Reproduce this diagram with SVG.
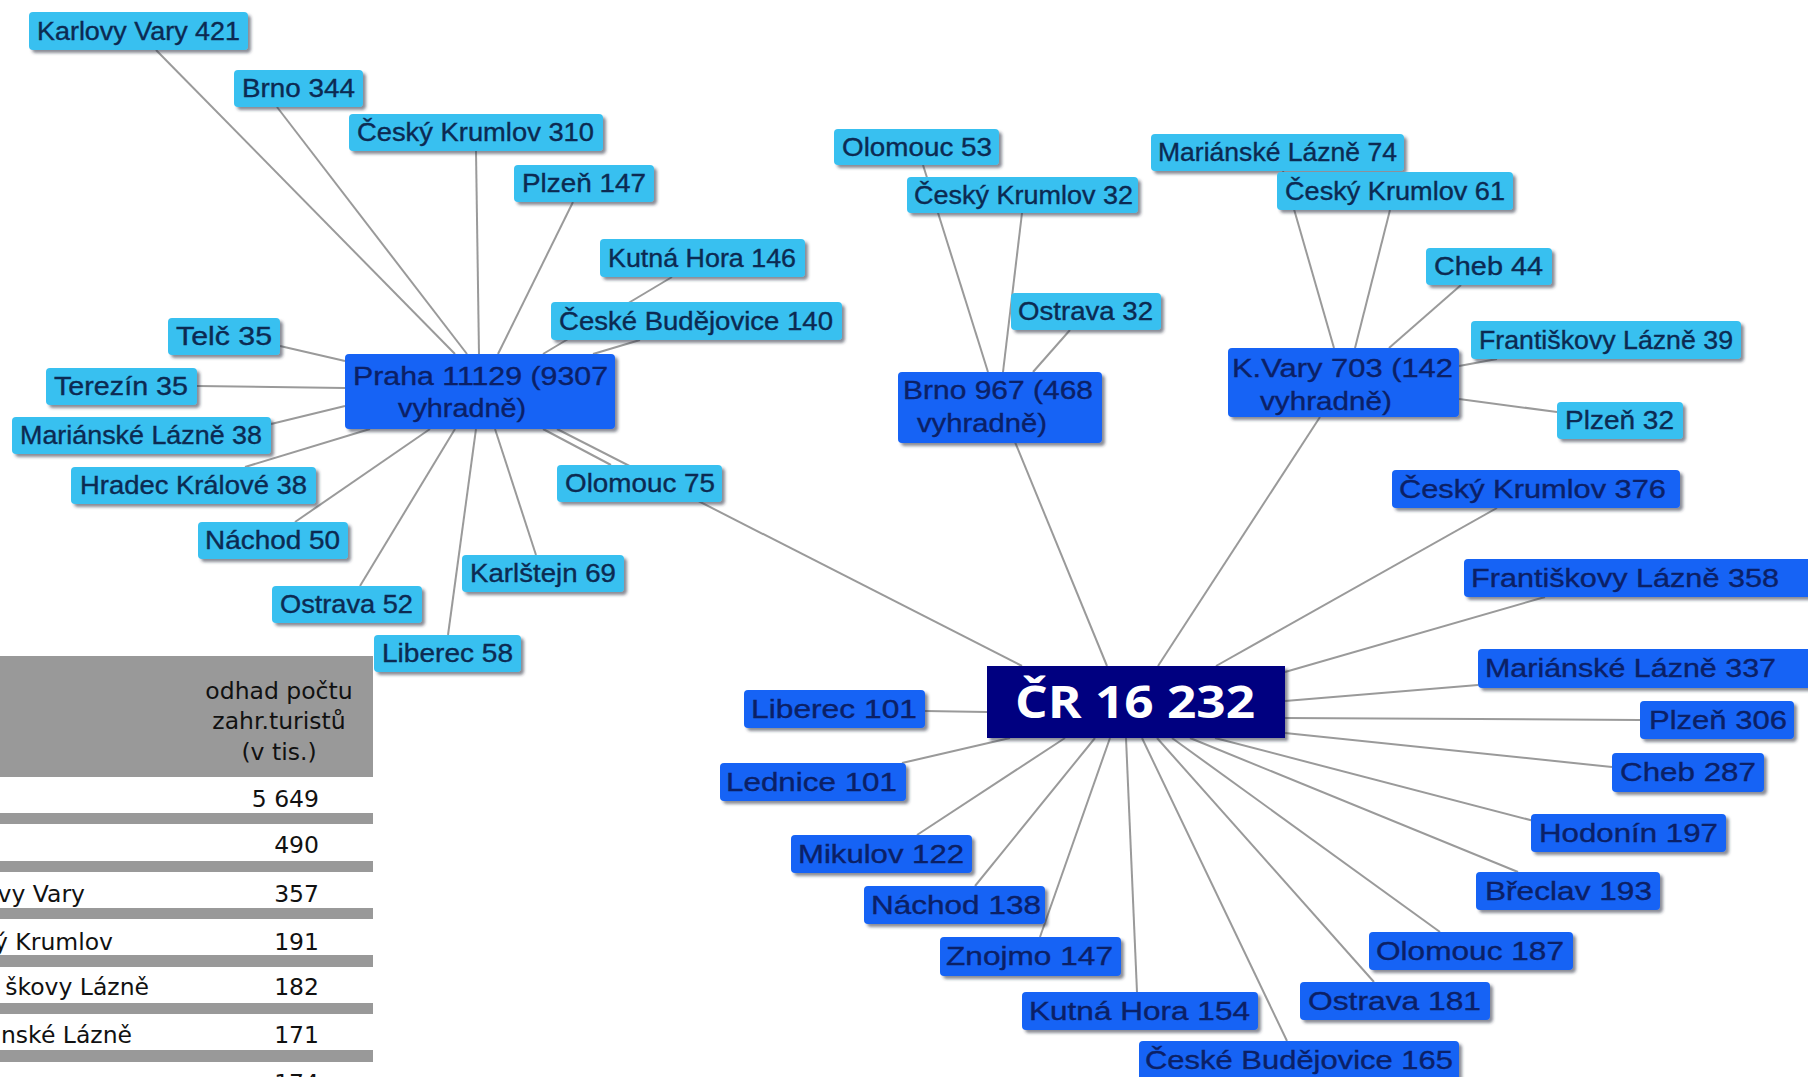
<svg xmlns="http://www.w3.org/2000/svg" width="1808" height="1077" viewBox="0 0 1808 1077" xml:space="preserve">
<defs>
<filter id="sh" x="-10%" y="-20%" width="130%" height="160%">
<feDropShadow dx="3" dy="3" stdDeviation="1.5" flood-color="#2a3340" flood-opacity="0.55"/>
</filter>
<style>
.lb{fill:#38c0f0;filter:url(#sh)}
.bl{fill:#1464f5;filter:url(#sh)}
.cr{fill:#000080;filter:url(#sh)}
.t{font-family:"Liberation Sans",Arial,sans-serif;font-size:25px;text-anchor:middle;fill:#0c2a52;stroke:#0c2a52;stroke-width:0.35}
.tb{font-family:"Liberation Sans",Arial,sans-serif;font-size:26px;text-anchor:middle;fill:#0b2066;stroke:#0b2066;stroke-width:0.35}
.tc{font-family:"Open Sans","Noto Sans",sans-serif;font-size:44px;font-weight:700;text-anchor:middle;fill:#ffffff}
.c line{stroke:#9a9a9a;stroke-width:2}
.tab{font-family:"DejaVu Sans",Verdana,sans-serif;font-size:23.5px;fill:#111111}
.bar{fill:#999999}
</style>
</defs>
<rect width="1808" height="1077" fill="#ffffff"/>

<g id="table">
<rect class="bar" x="0" y="656" width="373" height="121"/>
<text class="tab" x="279" y="699" text-anchor="middle">odhad počtu</text>
<text class="tab" x="279" y="729" text-anchor="middle">zahr.turistů</text>
<text class="tab" x="279" y="760" text-anchor="middle">(v tis.)</text>
<rect class="bar" x="0" y="813" width="373" height="11"/>
<rect class="bar" x="0" y="861" width="373" height="11"/>
<rect class="bar" x="0" y="908" width="373" height="11"/>
<rect class="bar" x="0" y="955" width="373" height="12"/>
<rect class="bar" x="0" y="1003" width="373" height="11"/>
<rect class="bar" x="0" y="1050" width="373" height="12"/>
<text class="tab" x="319" y="807" text-anchor="end">5 649</text>
<text class="tab" x="319" y="853" text-anchor="end">490</text>
<text class="tab" x="319" y="902" text-anchor="end">357</text>
<text class="tab" x="319" y="950" text-anchor="end">191</text>
<text class="tab" x="319" y="995" text-anchor="end">182</text>
<text class="tab" x="319" y="1043" text-anchor="end">171</text>
<text class="tab" x="319" y="1091" text-anchor="end">174</text>
<text class="tab" x="85" y="902" text-anchor="end">vy Vary</text>
<text class="tab" x="113" y="950" text-anchor="end">ý Krumlov</text>
<text class="tab" x="149" y="995" text-anchor="end">škovy Lázně</text>
<text class="tab" x="132" y="1043" text-anchor="end">nské Lázně</text>
</g>

<g id="connectors" class="c">
<line x1="156" y1="50" x2="455" y2="354"/>
<line x1="277" y1="107" x2="467" y2="354"/>
<line x1="476" y1="151" x2="479" y2="354"/>
<line x1="573" y1="202" x2="498" y2="354"/>
<line x1="672" y1="277" x2="543" y2="354"/>
<line x1="640" y1="340" x2="593" y2="354"/>
<line x1="280" y1="346" x2="345" y2="361"/>
<line x1="197" y1="386" x2="345" y2="388"/>
<line x1="271" y1="424" x2="345" y2="406"/>
<line x1="245" y1="467" x2="370" y2="429"/>
<line x1="295" y1="522" x2="430" y2="429"/>
<line x1="360" y1="586" x2="455" y2="429"/>
<line x1="448" y1="635" x2="476" y2="429"/>
<line x1="536" y1="555" x2="495" y2="429"/>
<line x1="611" y1="465" x2="543" y2="429"/>
<line x1="557" y1="429" x2="1022" y2="666"/>
<line x1="923" y1="165" x2="988" y2="372"/>
<line x1="1022" y1="213" x2="1003" y2="372"/>
<line x1="1070" y1="330" x2="1033" y2="372"/>
<line x1="1015" y1="442" x2="1107" y2="666"/>
<line x1="1283" y1="171" x2="1334" y2="348"/>
<line x1="1390" y1="210" x2="1355" y2="348"/>
<line x1="1461" y1="285" x2="1389" y2="348"/>
<line x1="1497" y1="359" x2="1459" y2="366"/>
<line x1="1557" y1="412" x2="1459" y2="399"/>
<line x1="1320" y1="417" x2="1158" y2="666"/>
<line x1="925" y1="711" x2="987" y2="712"/>
<line x1="902" y1="763" x2="1010" y2="738"/>
<line x1="917" y1="835" x2="1065" y2="738"/>
<line x1="975" y1="886" x2="1095" y2="738"/>
<line x1="1040" y1="937" x2="1110" y2="738"/>
<line x1="1137" y1="992" x2="1126" y2="738"/>
<line x1="1287" y1="1041" x2="1142" y2="738"/>
<line x1="1374" y1="982" x2="1157" y2="738"/>
<line x1="1440" y1="932" x2="1172" y2="738"/>
<line x1="1518" y1="872" x2="1190" y2="738"/>
<line x1="1534" y1="821" x2="1215" y2="738"/>
<line x1="1612" y1="767" x2="1285" y2="733"/>
<line x1="1640" y1="720" x2="1285" y2="718"/>
<line x1="1478" y1="685" x2="1285" y2="701"/>
<line x1="1545" y1="597" x2="1285" y2="672"/>
<line x1="1497" y1="508" x2="1216" y2="666"/>
</g>

<g id="n-kv421"><rect class="lb" x="29" y="12" width="219" height="38" rx="4"/><text class="t" x="138.5" y="40" textLength="203" lengthAdjust="spacingAndGlyphs">Karlovy Vary  421</text></g>
<g id="n-brno344"><rect class="lb" x="234" y="70" width="129" height="37" rx="4"/><text class="t" x="298.5" y="97" textLength="113" lengthAdjust="spacingAndGlyphs">Brno  344</text></g>
<g id="n-ck310"><rect class="lb" x="349" y="114" width="254" height="37" rx="4"/><text class="t" x="475.5" y="141" textLength="237" lengthAdjust="spacingAndGlyphs">Český Krumlov  310</text></g>
<g id="n-plzen147"><rect class="lb" x="514" y="165" width="140" height="37" rx="4"/><text class="t" x="584" y="192" textLength="124" lengthAdjust="spacingAndGlyphs">Plzeň  147</text></g>
<g id="n-kh146"><rect class="lb" x="600" y="239" width="205" height="38" rx="4"/><text class="t" x="702" y="267" textLength="188" lengthAdjust="spacingAndGlyphs">Kutná Hora  146</text></g>
<g id="n-cb140"><rect class="lb" x="551" y="302" width="291" height="38" rx="4"/><text class="t" x="696" y="330" textLength="274" lengthAdjust="spacingAndGlyphs">České Budějovice  140</text></g>
<g id="n-telc35"><rect class="lb" x="168" y="318" width="112" height="37" rx="4"/><text class="t" x="224" y="345" textLength="96" lengthAdjust="spacingAndGlyphs">Telč  35</text></g>
<g id="n-terezin35"><rect class="lb" x="46" y="368" width="151" height="37" rx="4"/><text class="t" x="121" y="395" textLength="134" lengthAdjust="spacingAndGlyphs">Terezín  35</text></g>
<g id="n-ml38"><rect class="lb" x="12" y="417" width="259" height="37" rx="4"/><text class="t" x="141" y="444" textLength="242" lengthAdjust="spacingAndGlyphs">Mariánské Lázně  38</text></g>
<g id="n-hk38"><rect class="lb" x="71" y="467" width="245" height="37" rx="4"/><text class="t" x="193.5" y="494" textLength="227" lengthAdjust="spacingAndGlyphs">Hradec Králové  38</text></g>
<g id="n-nachod50"><rect class="lb" x="198" y="522" width="150" height="37" rx="4"/><text class="t" x="272.5" y="549" textLength="135" lengthAdjust="spacingAndGlyphs">Náchod  50</text></g>
<g id="n-ostrava52"><rect class="lb" x="272" y="586" width="150" height="37" rx="4"/><text class="t" x="346.5" y="613" textLength="133" lengthAdjust="spacingAndGlyphs">Ostrava  52</text></g>
<g id="n-karlstejn69"><rect class="lb" x="462" y="555" width="162" height="37" rx="4"/><text class="t" x="543" y="582" textLength="146" lengthAdjust="spacingAndGlyphs">Karlštejn  69</text></g>
<g id="n-liberec58"><rect class="lb" x="374" y="635" width="147" height="37" rx="4"/><text class="t" x="447.5" y="662" textLength="131" lengthAdjust="spacingAndGlyphs">Liberec  58</text></g>
<g id="n-olomouc75"><rect class="lb" x="557" y="465" width="165" height="37" rx="4"/><text class="t" x="640" y="492" textLength="150" lengthAdjust="spacingAndGlyphs">Olomouc  75</text></g>
<g id="n-praha"><rect class="bl" x="345" y="354" width="270" height="75" rx="4"/><text class="tb" x="480.5" y="385" textLength="255" lengthAdjust="spacingAndGlyphs">Praha 11129 (9307</text><text class="tb" x="462" y="417" textLength="128" lengthAdjust="spacingAndGlyphs">vyhradně)</text></g>

<g id="n-olomouc53"><rect class="lb" x="834" y="129" width="165" height="36" rx="4"/><text class="t" x="917" y="156" textLength="150" lengthAdjust="spacingAndGlyphs">Olomouc  53</text></g>
<g id="n-ck32"><rect class="lb" x="907" y="177" width="231" height="36" rx="4"/><text class="t" x="1023.5" y="204" textLength="219" lengthAdjust="spacingAndGlyphs">Český Krumlov  32</text></g>
<g id="n-ostrava32"><rect class="lb" x="1011" y="293" width="150" height="37" rx="4"/><text class="t" x="1085.5" y="320" textLength="135" lengthAdjust="spacingAndGlyphs">Ostrava  32</text></g>
<g id="n-brno"><rect class="bl" x="898" y="372" width="204" height="71" rx="4"/><text class="tb" x="998" y="399" textLength="190" lengthAdjust="spacingAndGlyphs">Brno 967 (468</text><text class="tb" x="982" y="432" textLength="130" lengthAdjust="spacingAndGlyphs">vyhradně)</text></g>

<g id="n-ml74"><rect class="lb" x="1151" y="134" width="253" height="37" rx="4"/><text class="t" x="1277.5" y="161" textLength="239" lengthAdjust="spacingAndGlyphs">Mariánské Lázně  74</text></g>
<g id="n-ck61"><rect class="lb" x="1277" y="172" width="236" height="38" rx="4"/><text class="t" x="1395" y="200" textLength="220" lengthAdjust="spacingAndGlyphs">Český Krumlov  61</text></g>
<g id="n-cheb44"><rect class="lb" x="1426" y="248" width="126" height="37" rx="4"/><text class="t" x="1488.5" y="275" textLength="109" lengthAdjust="spacingAndGlyphs">Cheb  44</text></g>
<g id="n-fl39"><rect class="lb" x="1471" y="321" width="270" height="38" rx="4"/><text class="t" x="1606" y="349" textLength="254" lengthAdjust="spacingAndGlyphs">Františkovy Lázně  39</text></g>
<g id="n-plzen32"><rect class="lb" x="1557" y="402" width="126" height="37" rx="4"/><text class="t" x="1619.5" y="429" textLength="109" lengthAdjust="spacingAndGlyphs">Plzeň  32</text></g>
<g id="n-kvary"><rect class="bl" x="1228" y="348" width="231" height="69" rx="4"/><text class="tb" x="1342.5" y="377" textLength="221" lengthAdjust="spacingAndGlyphs">K.Vary 703 (142</text><text class="tb" x="1326" y="410" textLength="132" lengthAdjust="spacingAndGlyphs">vyhradně)</text></g>

<g id="n-ck376"><rect class="bl" x="1392" y="470" width="288" height="38" rx="4"/><text class="tb" x="1532.5" y="498" textLength="267" lengthAdjust="spacingAndGlyphs">Český Krumlov  376</text></g>
<g id="n-fl358"><rect class="bl" x="1464" y="559" width="348" height="38" rx="4"/><text class="tb" x="1625" y="587" textLength="308" lengthAdjust="spacingAndGlyphs">Františkovy Lázně  358</text></g>
<g id="n-ml337"><rect class="bl" x="1478" y="649" width="334" height="39" rx="4"/><text class="tb" x="1630.5" y="677" textLength="291" lengthAdjust="spacingAndGlyphs">Mariánské Lázně  337</text></g>
<g id="n-plzen306"><rect class="bl" x="1640" y="701" width="154" height="38" rx="4"/><text class="tb" x="1718" y="729" textLength="138" lengthAdjust="spacingAndGlyphs">Plzeň  306</text></g>
<g id="n-cheb287"><rect class="bl" x="1612" y="753" width="152" height="39" rx="4"/><text class="tb" x="1688" y="781" textLength="136" lengthAdjust="spacingAndGlyphs">Cheb  287</text></g>
<g id="n-hodonin197"><rect class="bl" x="1531" y="814" width="195" height="38" rx="4"/><text class="tb" x="1628.5" y="842" textLength="179" lengthAdjust="spacingAndGlyphs">Hodonín  197</text></g>
<g id="n-breclav193"><rect class="bl" x="1476" y="872" width="184" height="38" rx="4"/><text class="tb" x="1568.5" y="900" textLength="167" lengthAdjust="spacingAndGlyphs">Břeclav  193</text></g>
<g id="n-olomouc187"><rect class="bl" x="1369" y="932" width="204" height="38" rx="4"/><text class="tb" x="1470" y="960" textLength="188" lengthAdjust="spacingAndGlyphs">Olomouc  187</text></g>
<g id="n-ostrava181"><rect class="bl" x="1300" y="982" width="190" height="38" rx="4"/><text class="tb" x="1394.5" y="1010" textLength="173" lengthAdjust="spacingAndGlyphs">Ostrava  181</text></g>
<g id="n-cb165"><rect class="bl" x="1139" y="1041" width="320" height="44" rx="4"/><text class="tb" x="1299" y="1069" textLength="308" lengthAdjust="spacingAndGlyphs">České Budějovice  165</text></g>
<g id="n-kh154"><rect class="bl" x="1022" y="992" width="236" height="38" rx="4"/><text class="tb" x="1139.5" y="1020" textLength="221" lengthAdjust="spacingAndGlyphs">Kutná Hora  154</text></g>
<g id="n-znojmo147"><rect class="bl" x="940" y="937" width="181" height="39" rx="4"/><text class="tb" x="1029.5" y="965" textLength="167" lengthAdjust="spacingAndGlyphs">Znojmo  147</text></g>
<g id="n-nachod138"><rect class="bl" x="864" y="886" width="181" height="38" rx="4"/><text class="tb" x="956" y="914" textLength="170" lengthAdjust="spacingAndGlyphs">Náchod  138</text></g>
<g id="n-mikulov122"><rect class="bl" x="791" y="835" width="181" height="38" rx="4"/><text class="tb" x="881" y="863" textLength="166" lengthAdjust="spacingAndGlyphs">Mikulov  122</text></g>
<g id="n-lednice101"><rect class="bl" x="720" y="763" width="186" height="38" rx="4"/><text class="tb" x="811.5" y="791" textLength="171" lengthAdjust="spacingAndGlyphs">Lednice  101</text></g>
<g id="n-liberec101"><rect class="bl" x="744" y="690" width="181" height="38" rx="4"/><text class="tb" x="834" y="718" textLength="166" lengthAdjust="spacingAndGlyphs">Liberec  101</text></g>

<g id="n-cr"><rect class="cr" x="987" y="666" width="298" height="72"/><text class="tc" x="1135" y="718" textLength="240" lengthAdjust="spacingAndGlyphs">ČR 16 232</text></g>
</svg>
